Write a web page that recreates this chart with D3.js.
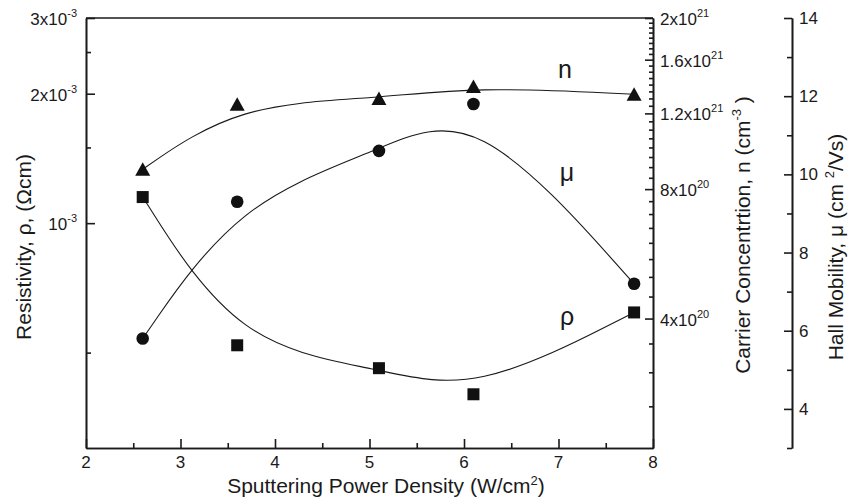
<!DOCTYPE html>
<html>
<head>
<meta charset="utf-8">
<script src="https://cdn.jsdelivr.net/npm/d3@7"></script>
<style>
    body { margin: 0; background: #fff; }
    svg text { font-family: "Liberation Sans", Arial, sans-serif; fill: #1a1a1a; }
    .axis path, .axis line { stroke: #1a1a1a; stroke-width: 1.6px; }
    .axis text { display: none; }
</style>
</head>
<body>
<div id="chart"></div>
<script>
// sputtering power density (W/cm2)
const power = [2.6, 3.6, 5.1, 6.1, 7.8];
// resistivity (ohm cm), carrier concentration (cm-3), hall mobility (cm2/Vs)
const resistivity = [1.15e-3, 5.2e-4, 4.6e-4, 4.0e-4, 6.2e-4];
const carrier = [8.9e20, 1.26e21, 1.30e21, 1.385e21, 1.33e21];
const mobility = [5.8, 9.3, 10.6, 11.8, 7.2];

const xTicks = [2, 3, 4, 5, 6, 7, 8];
const xMinor = [2.5, 3.5, 4.5, 5.5, 6.5, 7.5];
const rhoTicks = [[1e-3, "", "10", "-3"], [2e-3, "2x", "10", "-3"], [3e-3, "3x", "10", "-3"]];
const rhoMinor = [5e-4, 1.5e-3, 2.5e-3];
const nTicks = [[4e20, "4x10", "20"], [8e20, "8x10", "20"], [1.2e21, "1.2x10", "21"], [1.6e21, "1.6x10", "21"], [2e21, "2x10", "21"]];
const nMinor = [2.5e20, 3e20, 3.5e20, 4.5e20, 5e20, 5.5e20, 6e20, 6.5e20, 7e20, 7.5e20,
    8.5e20, 9e20, 9.5e20, 1e21, 1.05e21, 1.1e21, 1.15e21,
    1.25e21, 1.3e21, 1.35e21, 1.4e21, 1.45e21, 1.5e21, 1.55e21,
    1.65e21, 1.7e21, 1.75e21, 1.8e21, 1.85e21, 1.9e21, 1.95e21];
const muTicks = [4, 6, 8, 10, 12, 14];
const muMinor = [3, 5, 7, 9, 11, 13];

function drawChart() {
    const width = 857, height = 499;
    const left = 86, right = 653, top = 18, bottom = 448, muAxisX = 792;

    const svg = d3.select("#chart").append("svg")
        .attr("width", width)
        .attr("height", height);

    const x = d3.scaleLinear().domain([2, 8]).range([left, right]);
    const yRho = d3.scaleLog().domain([3e-4, 3e-3]).range([bottom, top]);
    const yN = d3.scaleLog().domain([2e20, 2e21]).range([bottom, top]);
    const yMu = d3.scaleLinear().domain([3, 14]).range([bottom, top]);

    // frame top
    svg.append("line")
        .attr("x1", left).attr("x2", right)
        .attr("y1", top).attr("y2", top)
        .attr("stroke", "#1a1a1a").attr("stroke-width", 1.6);

    // bottom axis
    svg.append("g").attr("class", "axis")
        .attr("transform", `translate(0,${bottom})`)
        .call(d3.axisBottom(x).tickValues(xTicks).tickSize(-9).tickSizeOuter(0));
    svg.append("g").attr("class", "axis")
        .attr("transform", `translate(0,${bottom})`)
        .call(d3.axisBottom(x).tickValues(xMinor).tickSize(-5).tickSizeOuter(0));
    svg.selectAll(".xlab")
        .data(xTicks)
        .enter().append("text")
        .attr("x", d => x(d))
        .attr("y", 468)
        .attr("text-anchor", "middle")
        .attr("font-size", "17px")
        .text(d => d);

    // left axis (resistivity, log)
    svg.append("g").attr("class", "axis")
        .attr("transform", `translate(${left},0)`)
        .call(d3.axisLeft(yRho).tickValues(rhoTicks.map(d => d[0])).tickSize(-9).tickSizeOuter(0));
    svg.append("g").attr("class", "axis")
        .attr("transform", `translate(${left},0)`)
        .call(d3.axisLeft(yRho).tickValues(rhoMinor).tickSize(-5).tickSizeOuter(0));
    const rl = svg.selectAll(".rlab")
        .data(rhoTicks)
        .enter().append("text")
        .attr("x", 77)
        .attr("y", d => yRho(d[0]) + 7)
        .attr("text-anchor", "end")
        .attr("font-size", "17px");
    rl.append("tspan").text(d => d[1] + d[2]);
    rl.append("tspan").attr("dy", -8).attr("font-size", "11px").text(d => d[3]);

    // carrier concentration axis (log) on right frame
    svg.append("g").attr("class", "axis")
        .attr("transform", `translate(${right},0)`)
        .call(d3.axisRight(yN).tickValues(nTicks.map(d => d[0])).tickSize(-8).tickSizeOuter(0));
    svg.append("g").attr("class", "axis")
        .attr("transform", `translate(${right},0)`)
        .call(d3.axisRight(yN).tickValues(nMinor).tickSize(-4).tickSizeOuter(0));
    const nl = svg.selectAll(".nlab")
        .data(nTicks)
        .enter().append("text")
        .attr("x", 660)
        .attr("y", d => yN(d[0]) + 7)
        .attr("font-size", "17px");
    nl.append("tspan").text(d => d[1]);
    nl.append("tspan").attr("dy", -8).attr("font-size", "11px").text(d => d[2]);

    // hall mobility axis (linear), offset
    svg.append("g").attr("class", "axis")
        .attr("transform", `translate(${muAxisX},0)`)
        .call(d3.axisRight(yMu).tickValues(muTicks).tickSize(-8).tickSizeOuter(0));
    svg.append("g").attr("class", "axis")
        .attr("transform", `translate(${muAxisX},0)`)
        .call(d3.axisRight(yMu).tickValues(muMinor).tickSize(-5).tickSizeOuter(0));
    svg.selectAll(".mlab")
        .data(muTicks)
        .enter().append("text")
        .attr("x", 799)
        .attr("y", d => yMu(d) + 6)
        .attr("font-size", "17px")
        .text(d => d);

    // axis titles
    svg.append("text")
        .attr("x", 386).attr("y", 493)
        .attr("text-anchor", "middle")
        .attr("font-size", "21px")
        .call(t => {
            t.append("tspan").text("Sputtering Power Density (W/cm");
            t.append("tspan").attr("dy", -8).attr("font-size", "13px").text("2");
            t.append("tspan").attr("dy", 8).text(")");
        });

    svg.append("text")
        .attr("transform", "translate(31,247) rotate(-90)")
        .attr("text-anchor", "middle")
        .attr("font-size", "21px")
        .text("Resistivity, ρ, (Ωcm)");

    svg.append("text")
        .attr("transform", "translate(750,235) rotate(-90)")
        .attr("text-anchor", "middle")
        .attr("font-size", "21px")
        .call(t => {
            t.append("tspan").text("Carrier Concentrtion, n (cm");
            t.append("tspan").attr("dy", -9).attr("font-size", "13px").text("-3");
            t.append("tspan").attr("dy", 9).text(" )");
        });

    svg.append("text")
        .attr("transform", "translate(843,247) rotate(-90)")
        .attr("text-anchor", "middle")
        .attr("font-size", "21px")
        .call(t => {
            t.append("tspan").text("Hall Mobility, μ (cm ");
            t.append("tspan").attr("dy", -9).attr("font-size", "13px").text("2");
            t.append("tspan").attr("dy", 9).text("/Vs)");
        });

    // smoothed curves
    const series = [
        { vals: carrier, y: yN, label: "n", lx: 565, ly: 78 },
        { vals: mobility, y: yMu, label: "μ", lx: 567, ly: 181 },
        { vals: resistivity, y: yRho, label: "ρ", lx: 567, ly: 325 }
    ];

    series.forEach(s => {
        const pts = power.map((p, i) => [x(p), s.y(s.vals[i])]);
        svg.append("path")
            .attr("d", d3.line().curve(d3.curveBasis)(pts))
            .attr("fill", "none")
            .attr("stroke", "#1a1a1a")
            .attr("stroke-width", 1.1);
        svg.append("text")
            .attr("x", s.lx).attr("y", s.ly)
            .attr("text-anchor", "middle")
            .attr("font-size", "25px")
            .text(s.label);
    });

    // markers
    svg.selectAll(".sq")
        .data(power)
        .enter().append("rect")
        .attr("x", (d, i) => x(d) - 6)
        .attr("y", (d, i) => yRho(resistivity[i]) - 6)
        .attr("width", 12).attr("height", 12)
        .attr("fill", "#111");

    svg.selectAll(".ci")
        .data(power)
        .enter().append("circle")
        .attr("cx", d => x(d))
        .attr("cy", (d, i) => yMu(mobility[i]))
        .attr("r", 6.3)
        .attr("fill", "#111");

    svg.selectAll(".tri")
        .data(power)
        .enter().append("path")
        .attr("d", (d, i) => {
            const cx = x(d), cy = yN(carrier[i]);
            return `M${cx},${cy - 7}L${cx + 7.5},${cy + 6.5}L${cx - 7.5},${cy + 6.5}Z`;
        })
        .attr("fill", "#111");
}

document.addEventListener('DOMContentLoaded', drawChart);
</script>
</body>
</html>
